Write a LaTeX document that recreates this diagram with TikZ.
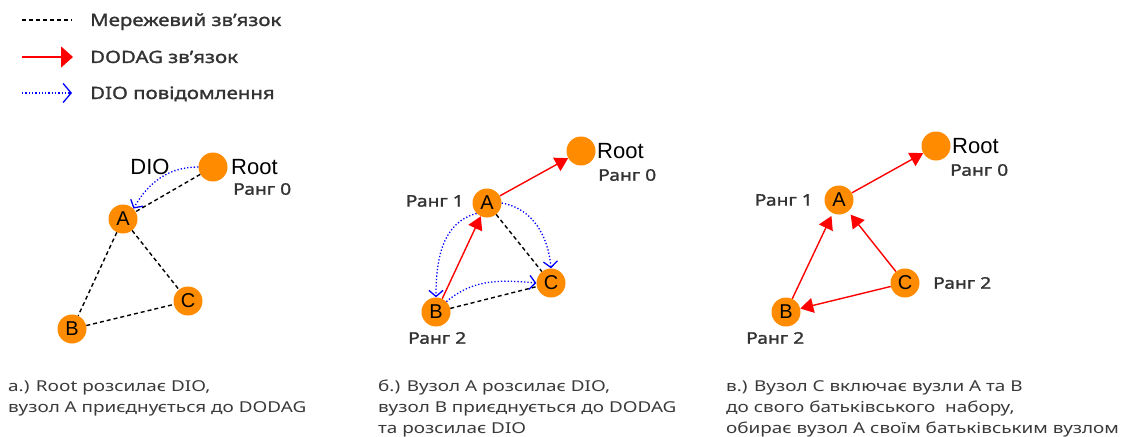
\documentclass[tikz,border=0pt]{standalone}
\usepackage{fontspec}
\setmainfont{Noto Sans}[FakeStretch=1.22]
\newfontfamily\semib{Noto Sans}[FakeStretch=1.2, FakeBold=1.4]
\newfontfamily\capf{Noto Sans}[FakeStretch=1.26]
\newfontfamily\arialf{Liberation Sans}
\usetikzlibrary{arrows.meta}
\definecolor{nodeor}{HTML}{FF8C00}
\definecolor{txt}{HTML}{333333}
\definecolor{captxt}{HTML}{3A3A3A}
\begin{document}
\begin{tikzpicture}[x=1pt,y=-1pt,
  nd/.style={circle, fill=nodeor, minimum size=29pt, inner sep=0pt, font=\arialf\fontsize{20}{20}\selectfont},
  net/.style={black, dash pattern=on 4pt off 3pt, line width=1.4pt},
  dodag/.style={red, line width=1.4pt, -{Triangle[length=13pt,width=15pt]}},
  dio/.style={blue, dotted, line width=1.3pt, -{Straight Barb[length=6pt,width=14pt]}},
  lbl/.style={font=\semib\fontsize{16}{16}\selectfont, text=txt, inner sep=0pt},
  leg/.style={font=\semib\fontsize{17}{17}\selectfont, text=txt, inner sep=0pt, anchor=base west},
  rootl/.style={font=\arialf\fontsize{22}{22}\selectfont, inner sep=0pt},
  captext/.style={font=\capf\fontsize{15}{15}\selectfont, text=captxt, inner sep=0pt, anchor=base west}
]
\useasboundingbox (0,0) rectangle (1123,436);
\fill[white] (0,0) rectangle (1123,436);

% legend
\coordinate (l1s) at (22,20); \coordinate (l1e) at (72,20);
\coordinate (l2s) at (22,57); \coordinate (l2e) at (73,57);
\coordinate (l3s) at (22,93); \coordinate (l3e) at (72,93);
\draw[net] (l1s) -- (l1e);
\draw[red, line width=1.5pt, -{Triangle[length=12pt,width=21pt]}] (l2s) -- (l2e);
\draw[dio, -{Straight Barb[length=8pt,width=19pt]}] (l3s) -- (l3e);
\node[leg] (lt1) at (90,26) {Мережевий зв’язок};
\node[leg] (lt2) at (90,63) {DODAG зв’язок};
\node[leg] (lt3) at (90,99) {DIO повідомлення};

% panel a
\node[nd] (aR) at (213,167) {};
\node[nd] (aA) at (123,219) {A};
\node[nd] (aB) at (72,329) {B};
\node[nd] (aC) at (188,301) {C};
\node[rootl, anchor=west] (aRt) at (231,167) {Root};
\node[lbl, anchor=west] (aR0) at (233,189) {Ранг 0};
\node[rootl] (aDIO) at (150,167) {DIO};
\draw[net] (aR) -- (aA);
\draw[net] (aA) -- (aB);
\draw[net] (aA) -- (aC);
\draw[net] (aB) -- (aC);
\draw[dio] (aR.west) to[out=180,in=60] (aA.north east);

% panel b
\node[nd] (bR) at (581,151) {};
\node[nd] (bA) at (487,203) {A};
\node[nd] (bB) at (436,312) {B};
\node[nd] (bC) at (551,283) {C};
\node[rootl, anchor=west] (bRt) at (597,151) {Root};
\node[lbl, anchor=west] (bR0) at (598,175) {Ранг 0};
\node[lbl, anchor=east] (bR1) at (464,201) {Ранг 1};
\node[lbl, anchor=west] (bR2) at (408,338) {Ранг 2};
\draw[net] (bA) -- (bC);
\draw[net] (bB) -- (bC);
\draw[dodag] (bB) -- (bA);
\draw[dodag] (bA) -- (bR);
\draw[dio] (bA.south west) to[out=195,in=90] (bB.north);
\draw[dio] (bA.east) to[out=-10,in=95] (bC.north);
\draw[dio] (bB.north east) to[out=40,in=175] (bC.west);

% panel c
\node[nd] (cR) at (936,146) {};
\node[nd] (cA) at (839,200) {A};
\node[nd] (cB) at (786,312) {B};
\node[nd] (cC) at (905,283) {C};
\node[rootl, anchor=west] (cRt) at (952,146) {Root};
\node[lbl, anchor=west] (cR0) at (950,170) {Ранг 0};
\node[lbl, anchor=east] (cR1) at (813,200) {Ранг 1};
\node[lbl, anchor=west] (cR2) at (933,283) {Ранг 2};
\node[lbl, anchor=west] (cR2b) at (746,338) {Ранг 2};
\draw[dodag] (cA) -- (cR);
\draw[dodag, shorten >=3pt] (cB) -- (cA);
\draw[dodag, shorten >=4pt] (cC) -- (cA);
\draw[dodag] (cC) -- (cB);

% captions
\node[captext] (ca1) at (8,391) {а.) Root розсилає DIO,};
\node[captext] (ca2) at (8,412) {вузол А приєднується до DODAG};
\node[captext] (cb1) at (378,391) {б.) Вузол А розсилає DIO,};
\node[captext] (cb2) at (378,412) {вузол В приєднується до DODAG};
\node[captext] (cb3) at (378,433) {та розсилає DIO};
\node[captext] (cc1) at (726,391) {в.) Вузол С включає вузли А та В};
\node[captext] (cc2) at (726,412) {до свого батьківського\ \ набору,};
\node[captext] (cc3) at (726,433) {обирає вузол А своїм батьківським вузлом};
\end{tikzpicture}
\end{document}
